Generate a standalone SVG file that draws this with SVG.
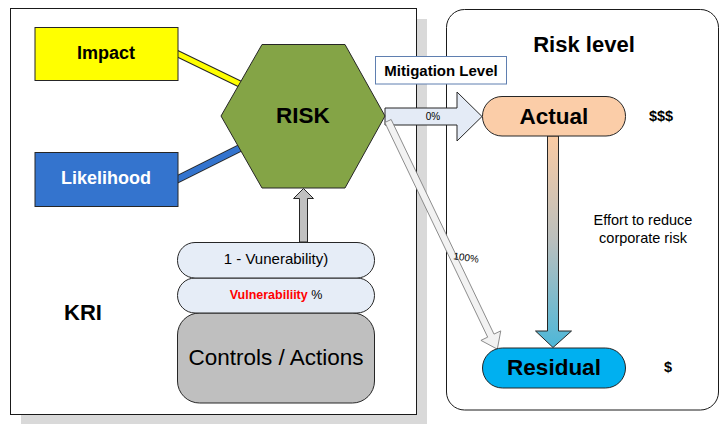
<svg xmlns="http://www.w3.org/2000/svg" width="720" height="424" viewBox="0 0 720 424">
  <defs>
    <linearGradient id="effortGrad" x1="0" y1="0" x2="0" y2="1">
      <stop offset="0" stop-color="#FBCBA3"/>
      <stop offset="0.5" stop-color="#B9BFBE"/>
      <stop offset="1" stop-color="#4DB7D8"/>
    </linearGradient>
    <style>
      text { font-family: "Liberation Sans", Arial, sans-serif; fill: #000; }
      .b { font-weight: bold; }
      .edge { stroke: #262626; stroke-width: 1; }
      .panel { fill: #fff; stroke: #1a1a1a; stroke-width: 1; }
    </style>
  </defs>

  <rect width="720" height="424" fill="#fff"/>

  <!-- KRI panel with drop shadow -->
  <g id="kri-panel">
    <rect x="21" y="19" width="406" height="406" fill="#D9D9D9"/>
    <rect class="panel" x="10.5" y="8.5" width="406" height="406"/>
    <text class="b" x="83" y="320" font-size="22" text-anchor="middle">KRI</text>
  </g>

  <!-- Risk level panel -->
  <g id="risk-level-panel">
    <rect class="panel" x="446.5" y="9.5" width="272" height="400.5" rx="18"/>
    <text class="b" x="584" y="52" font-size="22" text-anchor="middle">Risk level</text>
  </g>

  <!-- connectors -->
  <g id="connectors">
    <!-- Impact to RISK -->
    <line x1="176" y1="53" x2="242" y2="85" stroke="#262626" stroke-width="7"/>
    <line x1="176" y1="53" x2="242" y2="85" stroke="#FFFF00" stroke-width="5"/>
    <!-- Likelihood to RISK -->
    <line x1="176" y1="180" x2="242" y2="147" stroke="#262626" stroke-width="8"/>
    <line x1="176" y1="180" x2="242" y2="147" stroke="#3474CE" stroke-width="6"/>
    <!-- controls up to RISK -->
    <polygon class="edge" fill="#C0C0C0" points="299.5,242 307.5,242 307.5,198.5 313.5,198.5 303.5,188.5 293.5,198.5 299.5,198.5"/>
    <!-- 0% mitigation to Actual -->
    <polygon class="edge" fill="#E4EBF6" points="385,108 457,108 457,92 482,116.5 457,141 457,125 385,125"/>
    <text x="433" y="120" font-size="10" text-anchor="middle">0%</text>
    <!-- 100% straight to Residual -->
    <polygon fill="#F2F2F2" stroke="#7F7F7F" stroke-width="0.8" transform="translate(388,121) rotate(64.4)" points="0,-3.5 238,-3.5 238,-11 253,0 238,11 238,3.5 0,3.5"/>
    <text x="466" y="261" font-size="10" text-anchor="middle" transform="rotate(8 466 258)">100%</text>
    <!-- effort from Actual down to Residual -->
    <polygon class="edge" fill="url(#effortGrad)" points="547.5,136 558.5,136 558.5,331 571.5,331 553,347.5 535.5,331 547.5,331"/>
  </g>

  <g id="impact">
    <rect class="edge" x="35" y="27.5" width="143" height="53" fill="#FFFF00"/>
    <text class="b" x="106" y="59" font-size="18" text-anchor="middle">Impact</text>
  </g>

  <g id="likelihood">
    <rect class="edge" x="35" y="152.5" width="143" height="54" fill="#3474CE"/>
    <text class="b" x="106" y="184" font-size="18" text-anchor="middle" style="fill:#fff">Likelihood</text>
  </g>

  <g id="risk">
    <polygon class="edge" fill="#84A446" points="262,44.5 345,44.5 385,116 345,188 262,188 221,116"/>
    <text class="b" x="303" y="123" font-size="22.5" text-anchor="middle">RISK</text>
  </g>

  <g id="controls">
    <rect class="edge" x="177.5" y="313" width="197" height="90" rx="22" fill="#BFBFBF"/>
    <text x="276" y="365" font-size="22.5" text-anchor="middle">Controls / Actions</text>
  </g>

  <g id="vulnerability">
    <rect class="edge" x="177.5" y="278" width="197" height="35" rx="17.5" fill="#E6EDF7"/>
    <text x="276" y="299" font-size="12.5" text-anchor="middle"><tspan class="b" style="fill:#FF0000">Vulnerabiliity</tspan> %</text>
  </g>

  <g id="one-minus-vulnerability">
    <rect class="edge" x="177.5" y="242.5" width="197" height="35.5" rx="17.5" fill="#E6EDF7"/>
    <text x="276" y="264" font-size="15" text-anchor="middle">1 - Vunerability)</text>
  </g>

  <g id="mitigation-level">
    <rect x="375.5" y="56.5" width="131" height="27.5" fill="#fff" stroke="#5F7FB0" stroke-width="1"/>
    <text class="b" x="441" y="76" font-size="15" text-anchor="middle">Mitigation Level</text>
  </g>

  <g id="actual">
    <rect class="edge" x="482.5" y="96.5" width="143" height="39.5" rx="19.5" fill="#FBCDA8"/>
    <text class="b" x="554" y="124" font-size="22.5" text-anchor="middle">Actual</text>
    <text class="b" x="661" y="121" font-size="14.5" text-anchor="middle">$$$</text>
  </g>

  <g id="residual">
    <rect class="edge" x="482.5" y="348" width="143" height="40" rx="20" fill="#00B0F0"/>
    <text class="b" x="554" y="375" font-size="22.5" text-anchor="middle">Residual</text>
    <text class="b" x="668" y="372" font-size="14.5" text-anchor="middle">$</text>
  </g>

  <g id="effort-note">
    <text x="643" y="225" font-size="14.5" text-anchor="middle">Effort to reduce</text>
    <text x="643" y="243" font-size="14.5" text-anchor="middle">corporate risk</text>
  </g>
</svg>
